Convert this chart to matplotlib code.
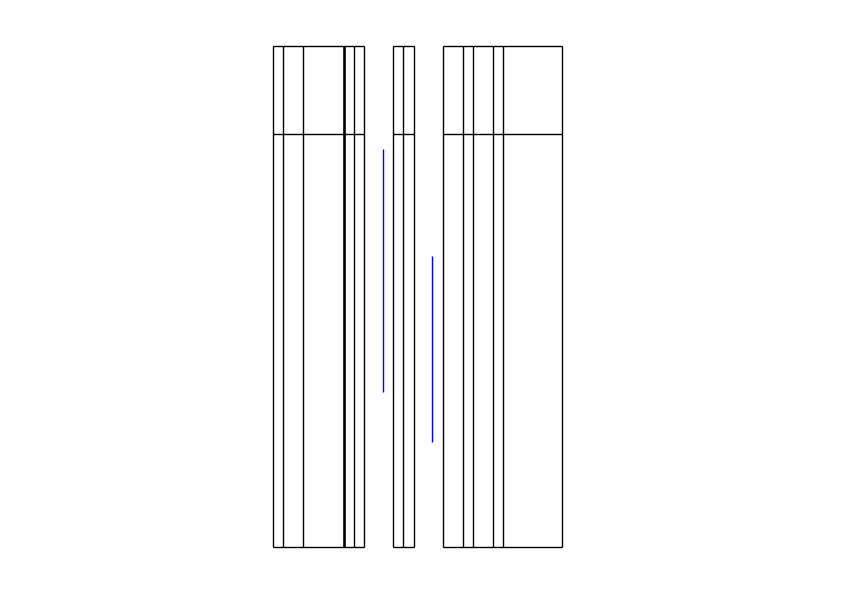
import matplotlib
matplotlib.use("Agg")
import matplotlib.pyplot as plt

# Table blocks: column boundaries (x) and row boundaries (top, header, bottom)
table1_cols = [273, 283, 303, 344, 354, 364]
table2_cols = [393, 403, 414]
table3_cols = [443, 463, 473, 493, 503, 562]
row_top, row_header, row_bottom = 46, 134, 547
thick_cols = [344]

# Interval markers (x, low, high)
interval_x = [383.5, 432.5]
interval_low = [149, 256]
interval_high = [392, 442]

W, H = 841, 595
fig = plt.figure(figsize=(W / 100, H / 100), dpi=100)
ax = fig.add_axes([0, 0, 1, 1])
ax.set_xlim(0, W)
ax.set_ylim(H, 0)
ax.axis("off")

lw = 1.0
for cols in (table1_cols, table2_cols, table3_cols):
    for c in cols:
        ax.vlines(c + 0.5, row_top, row_bottom, color="black",
                  lw=1.9 if c in thick_cols else lw)
    for r in (row_top, row_header, row_bottom):
        ax.hlines(r, cols[0] + 0.5, cols[-1] + 0.5, color="black", lw=lw)

ax.vlines(interval_x, interval_low, interval_high, color="#0000ff", lw=lw)

fig.savefig("out.png", dpi=100)
